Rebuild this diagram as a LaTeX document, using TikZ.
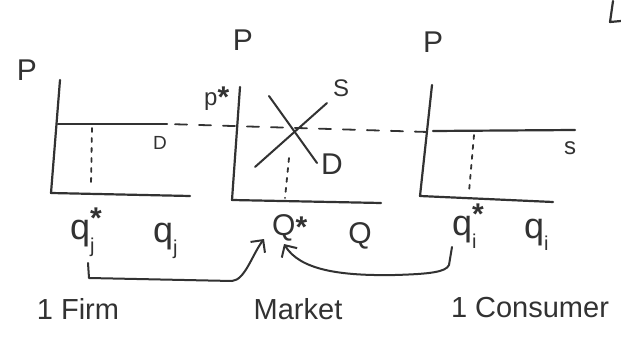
\documentclass[tikz,border=0pt]{standalone}
\usepackage{fontspec}
\setmainfont{Liberation Sans}
\usetikzlibrary{arrows.meta}
\definecolor{ink}{RGB}{50,50,50}
\newcommand{\bigstar}{{\fontsize{30}{30}\selectfont\bfseries *}}
\newcommand{\qlab}[2]{q\rlap{\raisebox{0.32em}{#2}}\raisebox{-0.35em}{\fontsize{20}{20}\selectfont #1}}
\tikzset{
  ink/.style={draw=ink, line width=2.2pt, line cap=round, line join=round},
  axis/.style={ink},
  guide/.style={ink, line width=1.8pt, dash pattern=on 4pt off 6pt},
  pline/.style={ink, line width=1.8pt, dash pattern=on 12pt off 12pt},
  flow/.style={ink, line width=2pt, -{Straight Barb[length=9pt,width=18pt,line width=2pt]}},
  big/.style={text=ink, inner sep=0pt, font=\fontsize{30}{34}\selectfont},
  qsty/.style={text=ink, inner sep=0pt, font=\fontsize{36}{40}\selectfont},
  mid/.style={text=ink, inner sep=0pt, font=\fontsize{24}{28}\selectfont},
  small/.style={text=ink, inner sep=0pt, font=\fontsize{19}{22}\selectfont},
  word/.style={text=ink, inner sep=0pt, font=\fontsize{29}{34}\selectfont},
}
\begin{document}
\begin{tikzpicture}[x=1pt,y=-1pt]
\useasboundingbox (0,0) rectangle (621,339);
\fill[white] (0,0) rectangle (621,339);

% ---------- Panel 1: Firm ----------
\coordinate (f-top) at (60,80);
\coordinate (f-o) at (51,193);
\coordinate (f-x) at (190,196);
\coordinate (f-d0) at (58,124);
\coordinate (f-d1) at (167,124);
\draw[axis] (f-top) -- (f-o) -- (f-x);
\draw[ink] (f-d0) -- (f-d1);
\coordinate (f-g0) at (92,128);
\coordinate (f-g1) at (91,185);
\draw[guide] (f-g0) -- (f-g1);
\node[big] (fP) at (27,70) {P};
\node[small] (fD) at (160,143) {D};
\node[qsty, anchor=base west] (fqs) at (70,240) {\qlab{j}{\bigstar}};
\node[qsty, anchor=base west] (fq) at (153,242) {\qlab{j}{}};
\node[word] (firm) at (78,309) {1 Firm};

% ---------- Panel 2: Market ----------
\coordinate (m-top) at (240,87);
\coordinate (m-o) at (232,200);
\coordinate (m-x) at (381,203);
\draw[axis] (m-top) -- (m-o) -- (m-x);
\coordinate (m-s0) at (255,167);
\coordinate (m-s1) at (327,103);
\coordinate (m-d0) at (269,96);
\coordinate (m-d1) at (317,163);
\draw[ink, line width=2pt] (m-s0) -- (m-s1);
\draw[ink, line width=2pt] (m-d0) -- (m-d1);
\coordinate (m-g0) at (289,158);
\coordinate (m-g1) at (285,198);
\draw[guide] (m-g0) -- (m-g1);
\node[big] (mP) at (243,40) {P};
\node[mid, anchor=base west] (mp) at (204,106) {p\raisebox{-0.05em}{\bigstar}};
\node[mid] (mS) at (341,88) {S};
\node[big] (mD) at (332,164) {D};
\node[big, anchor=base west] (mQs) at (272,236) {Q\raisebox{-0.05em}{\bigstar}};
\node[big] (mQ) at (360,236) {Q};
\node[word] (market) at (298,309) {Market};

% ---------- Panel 3: Consumer ----------
\coordinate (c-top) at (432,85);
\coordinate (c-o) at (420,196);
\coordinate (c-x) at (553,202);
\draw[axis] (c-top) -- (c-o) -- (c-x);
\coordinate (c-s0) at (433,131);
\coordinate (c-s1) at (575,130);
\draw[ink] (c-s0) -- (c-s1);
\coordinate (c-g0) at (474,135);
\coordinate (c-g1) at (469,192);
\draw[guide] (c-g0) -- (c-g1);
\node[big] (cP) at (433,42) {P};
\node[mid] (cS) at (570,148) {s};
\node[qsty, anchor=base west] (cqs) at (452,236) {\qlab{i}{\bigstar}};
\node[qsty, anchor=base west] (cq) at (524,238) {\qlab{i}{}};
\node[word] (consumer) at (530,308) {1 Consumer};

% ---------- price line across panels ----------
\coordinate (pl-end) at (428,132);
\draw[pline, dash phase=-8pt] (f-d1) -- (pl-end);

% ---------- aggregation arrows ----------
\coordinate (a1s) at (88,263);
\coordinate (a1e) at (264,239);
\draw[flow] (a1s) -- (89,278) -- (232,281) .. controls (245,280) and (252,255) .. (a1e);
\coordinate (a2s) at (452,247);
\coordinate (a2e) at (284,244);
\draw[flow] (a2s) -- (449,265) .. controls (446,272) and (430,274) .. (395,275)
  .. controls (340,276) and (300,270) .. (a2e);

% ---------- stray stroke at top right ----------
\coordinate (L0) at (613,1);
\coordinate (L1) at (610,22);
\coordinate (L2) at (621,21);
\draw[ink] (L0) -- (L1) -- (L2);
\end{tikzpicture}
\end{document}
